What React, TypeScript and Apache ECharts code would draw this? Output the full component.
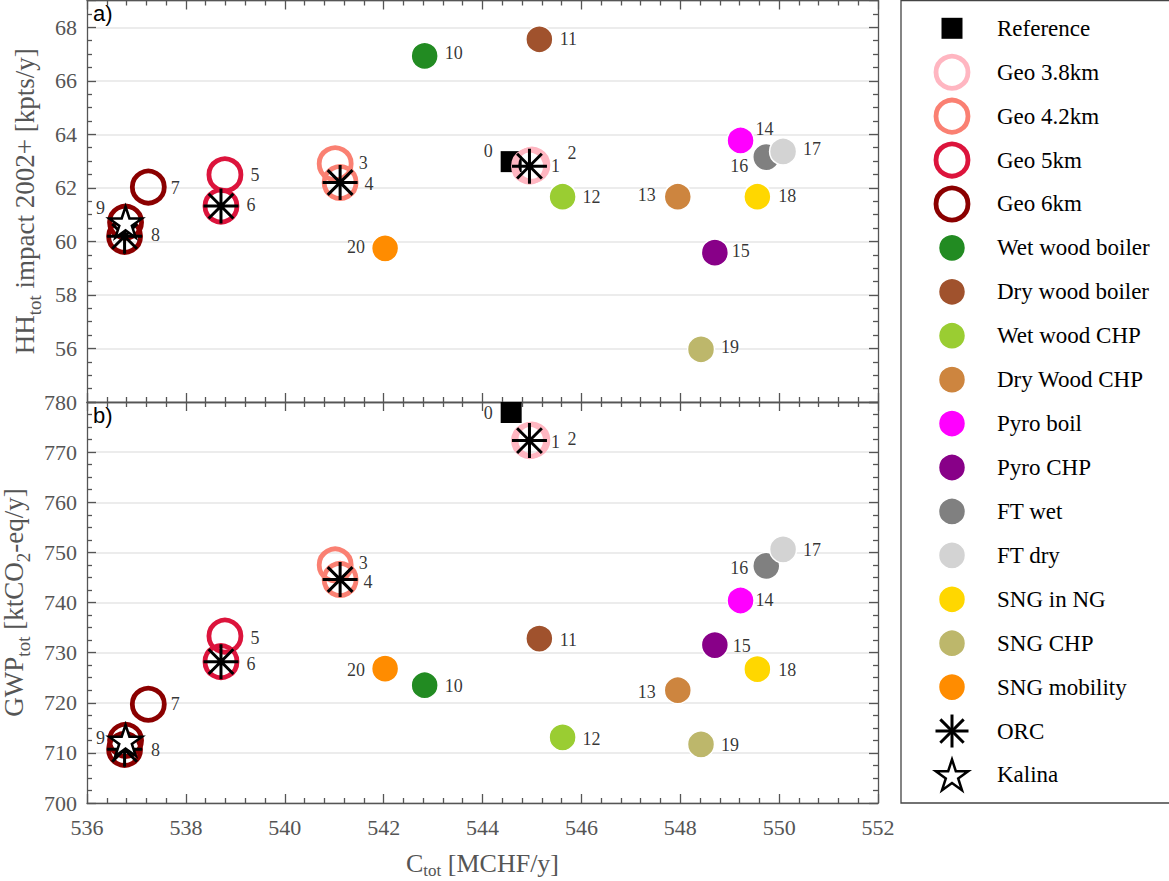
import React, { useEffect, useRef } from 'react';
import * as echarts from 'echarts';

// ---------- data ----------
const pointIds = [0, 1, 2, 3, 4, 5, 6, 7, 8, 9, 10, 11, 12, 13, 14, 15, 16, 17, 18, 19, 20];
const costTot = [544.58, 544.95, 545.0, 541.02, 541.12, 538.79, 538.71, 537.24, 536.76, 536.78, 542.83, 545.15, 545.62, 547.95, 549.22, 548.7, 549.74, 550.08, 549.56, 548.42, 542.03];
const hhImpact = [62.98, 62.81, 62.85, 62.9, 62.2, 62.49, 61.32, 62.03, 60.19, 60.72, 66.93, 67.55, 61.67, 61.67, 63.77, 59.58, 63.15, 63.36, 61.67, 55.97, 59.74];
const gwpTot = [777.9, 772.3, 772.4, 747.5, 744.6, 733.3, 728.2, 719.7, 710.7, 712.5, 723.5, 732.8, 713.1, 722.5, 740.4, 731.5, 747.3, 750.6, 726.7, 711.7, 726.8];
// category index of each point (into legendNames)
const pointCategory = [0, 1, 1, 2, 2, 3, 3, 4, 4, 4, 5, 6, 7, 8, 9, 10, 11, 12, 13, 14, 15];
// overlay marker of each point (16 = ORC, 17 = Kalina, -1 = none)
const pointOverlay = [-1, 16, -1, -1, 16, -1, 16, -1, 16, 17, -1, -1, -1, -1, -1, -1, -1, -1, -1, -1, -1];

const legendNames = ['Reference', 'Geo 3.8km', 'Geo 4.2km', 'Geo 5km', 'Geo 6km', 'Wet wood boiler', 'Dry wood boiler', 'Wet wood CHP', 'Dry Wood CHP', 'Pyro boil', 'Pyro CHP', 'FT wet', 'FT dry', 'SNG in NG', 'SNG CHP', 'SNG mobility', 'ORC', 'Kalina'];
const categoryKinds = ['square', 'ring', 'ring', 'ring', 'ring', 'dot', 'dot', 'dot', 'dot', 'dot', 'dot', 'dot', 'dot', 'dot', 'dot', 'dot', 'asterisk', 'star'];
const categoryColors = ['#000000', '#ffb6c1', '#fa8072', '#dc143c', '#8b0000', '#228b22', '#a0522d', '#9acd32', '#cd853f', '#ff00ff', '#880088', '#808080', '#d3d3d3', '#ffd700', '#bdb76b', '#ff8c00', '#000000', '#000000'];

const xRange = { min: 536, max: 552, interval: 2 };
const yRangeA = { min: 54, max: 69, interval: 2 };
const yRangeB = { min: 700, max: 780, interval: 10 };

// label placement (pixel offsets of the point numbers)
const labelOffsetA = [[-23, -11], [26, 0], [40, -12], [28, -1], [29, 1], [30, 0], [30, -1], [27, 1], [31, -1], [-25, -14], [29, -3], [29, 0], [29, 0], [-31, -2], [24, -11], [26, -2], [-27, 9], [29, -2], [30, -1], [29, -2], [-29, -1]];
const labelOffsetB = [[-23, 0], [26, 1], [40, -1], [28, -2], [28, 3], [30, 2], [30, 2], [27, 0], [31, 1], [-25, -2], [29, 1], [29, 1], [29, 2], [-31, 2], [24, 0], [27, 1], [-27, 2], [29, 1], [30, 1], [29, 1], [-29, 1]];

// ---------- styles ----------
const SERIF = 'Liberation Serif';
const SANS = 'Liberation Sans';
const AXIS_COLOR = '#555';
const ASTERISK = 'path://M18 0L18 36M0 18L36 18M5.27 5.27L30.73 30.73M5.27 30.73L30.73 5.27';
const STAR = 'path://M0 -50L11.23 -15.45L47.55 -15.45L18.17 5.9L29.39 40.45L0 19.1L-29.39 40.45L-18.17 5.9L-47.55 -15.45L-11.23 -15.45Z';

function markerStyle(kind: string, color: string) {
  switch (kind) {
    case 'square':
      return { symbol: 'rect', symbolSize: 21, itemStyle: { color, opacity: 1 } };
    case 'ring':
      return { symbol: 'circle', symbolSize: 32, itemStyle: { color: 'rgba(0,0,0,0)', borderColor: color, borderWidth: 4.8, opacity: 1 } };
    case 'asterisk':
      return { symbol: ASTERISK, symbolSize: 35, itemStyle: { color: 'rgba(0,0,0,0)', borderColor: color, borderWidth: 3, opacity: 1 } };
    case 'star':
      return { symbol: STAR, symbolSize: [33, 31], itemStyle: { color: '#fff', borderColor: color, borderWidth: 2.5, opacity: 1 } };
    default:
      return { symbol: 'circle', symbolSize: 27, itemStyle: { color, borderColor: '#fff', borderWidth: 1.5, opacity: 1 } };
  }
}

function panelSeries(panel: number, yValues: number[], offsets: number[][]) {
  const out: any[] = [];
  legendNames.forEach((name, c) => {
    const members = pointIds.filter((i) => (c >= 16 ? pointOverlay[i] === c : pointCategory[i] === c));
    if (!members.length) return;
    out.push({
      type: 'scatter',
      name,
      xAxisIndex: panel * 2,
      yAxisIndex: panel * 2,
      z: 2 + (c >= 16 ? 1 : 0),
      silent: true,
      ...markerStyle(categoryKinds[c], categoryColors[c]),
      data: members.map((i) => [costTot[i], yValues[i]]),
    });
  });
  out.push({
    type: 'scatter',
    name: 'labels' + panel,
    xAxisIndex: panel * 2,
    yAxisIndex: panel * 2,
    z: 5,
    silent: true,
    symbol: 'circle',
    symbolSize: 1,
    itemStyle: { color: 'rgba(0,0,0,0)' },
    label: { show: true, position: 'inside', formatter: '{b}', color: '#000', fontSize: 18, fontFamily: SERIF },
    data: pointIds.map((i) => ({ name: String(i), value: [costTot[i], yValues[i]], label: { offset: offsets[i] } })),
  });
  return out;
}

const lineStyle = { color: AXIS_COLOR, width: 1.3 };

function makeX(gridIndex: number, position: string, labels: boolean, name?: string) {
  return {
    type: 'value', gridIndex, position, ...xRange,
    axisLine: { show: true, onZero: false, lineStyle },
    axisTick: { show: true, inside: true, length: 9, lineStyle },
    minorTick: { show: true, splitNumber: 5, length: 5, lineStyle },
    axisLabel: { show: labels, color: AXIS_COLOR, fontSize: 22, fontFamily: SERIF, margin: 13 },
    splitLine: { show: false },
    name: name || '',
    nameLocation: 'middle',
    nameGap: 47,
    nameTextStyle: {
      rich: {
        a: { fontSize: 26, fontFamily: SERIF, color: AXIS_COLOR, verticalAlign: 'top', padding: [0, 0, 3, 0] },
        s: { fontSize: 17, fontFamily: SERIF, color: AXIS_COLOR, verticalAlign: 'top', padding: [12, 0, 0, 0] },
      },
    },
  };
}

function makeY(gridIndex: number, position: string, range: any, minor: number, labels: boolean, hideMin: boolean, hideMax: boolean, name?: string) {
  return {
    type: 'value', gridIndex, position, ...range,
    axisLine: { show: true, onZero: false, lineStyle },
    axisTick: { show: true, inside: true, length: 9, lineStyle },
    minorTick: { show: true, splitNumber: minor, length: 5, lineStyle },
    axisLabel: { show: labels, color: AXIS_COLOR, fontSize: 22, fontFamily: SERIF, margin: 10, showMinLabel: !hideMin, showMaxLabel: !hideMax },
    splitLine: { show: labels, lineStyle: { color: '#e6e6e6', width: 1.5 } },
    name: name || '',
    nameLocation: 'middle',
    nameGap: 34,
    nameTextStyle: {
      rich: {
        a: { fontSize: 27, fontFamily: SERIF, color: AXIS_COLOR, verticalAlign: 'top', padding: [0, 0, 13, 0] },
        s: { fontSize: 19, fontFamily: SERIF, color: AXIS_COLOR, verticalAlign: 'top', padding: [14, 0, 0, 0] },
      },
    },
  };
}

function legendGraphics() {
  const els: any[] = [
    { type: 'rect', shape: { x: 901, y: 0.5, width: 300, height: 802.5 }, style: { fill: '#fff', stroke: '#444', lineWidth: 1.3 } },
  ];
  const cx = 952;
  legendNames.forEach((name, i) => {
    const cy = 28.3 + i * 43.92;
    const kind = categoryKinds[i];
    const color = categoryColors[i];
    if (kind === 'square') {
      els.push({ type: 'rect', shape: { x: cx - 10.5, y: cy - 10.5, width: 21, height: 21 }, style: { fill: color } });
    } else if (kind === 'ring') {
      els.push({ type: 'circle', shape: { cx, cy, r: 16 }, style: { fill: 'none', stroke: color, lineWidth: 4.8 } });
    } else if (kind === 'dot') {
      els.push({ type: 'circle', shape: { cx, cy, r: 13.5 }, style: { fill: color, stroke: '#fff', lineWidth: 1.5 } });
    } else if (kind === 'asterisk') {
      const r = 16.5;
      const d = r * Math.SQRT1_2;
      [[0, -r, 0, r], [-r, 0, r, 0], [-d, -d, d, d], [-d, d, d, -d]].forEach((s) => {
        els.push({ type: 'line', shape: { x1: cx + s[0], y1: cy + s[1], x2: cx + s[2], y2: cy + s[3] }, style: { stroke: color, lineWidth: 3 } });
      });
    } else if (kind === 'star') {
      const pts: number[][] = [];
      for (let k = 0; k < 10; k++) {
        const rad = k % 2 === 0 ? 17 : 6.5;
        const ang = (-90 + 36 * k) * Math.PI / 180;
        pts.push([cx + rad * Math.cos(ang), cy + 1.5 + rad * Math.sin(ang)]);
      }
      els.push({ type: 'polygon', shape: { points: pts }, style: { fill: '#fff', stroke: color, lineWidth: 2.5 } });
    }
    els.push({ type: 'text', x: 997, y: cy, style: { text: name, fontSize: 23, fontFamily: SERIF, fill: '#000', verticalAlign: 'middle', align: 'left' } });
  });
  els.push({ type: 'text', x: 93, y: 13, style: { text: 'a)', fontSize: 22, fontFamily: SANS, fill: '#000', verticalAlign: 'middle' } });
  els.push({ type: 'text', x: 93, y: 415, style: { text: 'b)', fontSize: 22, fontFamily: SANS, fill: '#000', verticalAlign: 'middle' } });
  return els;
}

export default function App() {
  const ref = useRef<HTMLDivElement>(null);
  useEffect(() => {
    if (!ref.current) return;
    const chart = echarts.init(ref.current, undefined, { renderer: 'svg' });
    chart.setOption({
      animation: false,
      backgroundColor: '#fff',
      textStyle: { fontFamily: SERIF },
      grid: [
        { left: 87, right: 291, top: 0.5, height: 401.5, containLabel: false, outerBoundsMode: 'none' },
        { left: 87, right: 291, top: 402, height: 401, containLabel: false, outerBoundsMode: 'none' },
      ],
      xAxis: [
        makeX(0, 'bottom', false),
        makeX(0, 'top', false),
        makeX(1, 'bottom', true, '{a|C}{s|tot}{a| [MCHF/y]}'),
        makeX(1, 'top', false),
      ],
      yAxis: [
        makeY(0, 'left', yRangeA, 4, true, true, true, '{a|HH}{s|tot}{a| impact 2002+ [kpts/y]}'),
        makeY(0, 'right', yRangeA, 4, false, true, true),
        makeY(1, 'left', yRangeB, 4, true, false, false, '{a|GWP}{s|tot}{a| [ktCO}{s|2}{a|-eq/y]}'),
        makeY(1, 'right', yRangeB, 4, false, false, false),
      ],
      series: [...panelSeries(0, hhImpact, labelOffsetA), ...panelSeries(1, gwpTot, labelOffsetB)],
      graphic: legendGraphics(),
    });
    return () => chart.dispose();
  }, []);
  return <div ref={ref} style={{ position: 'absolute', left: 0, top: 0, width: 1169, height: 881 }} />;
}
